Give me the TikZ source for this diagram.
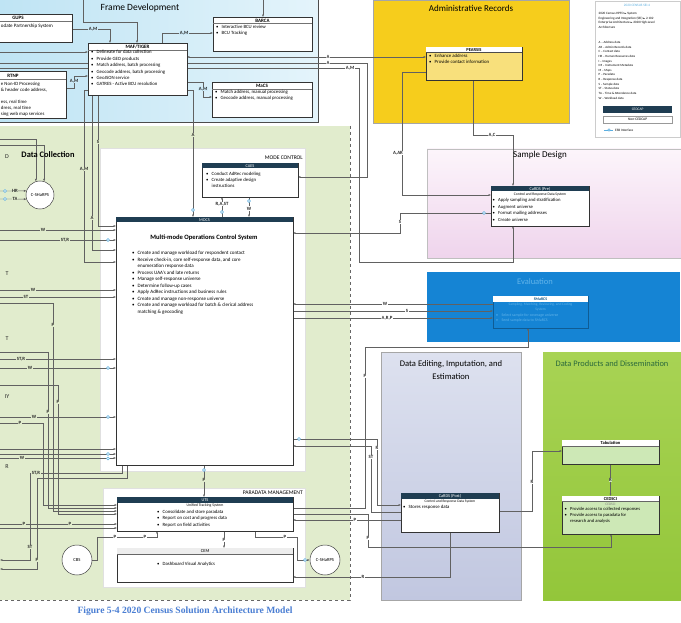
\documentclass[tikz,border=0pt]{standalone}
\usepackage{fontspec}
\setmainfont{Carlito}
\newfontfamily\capfont{Liberation Serif}
\newfontfamily\symfont{DejaVu Sans}
\usetikzlibrary{arrows.meta}
\pgfdeclarelayer{regions}
\pgfdeclarelayer{lines}
\pgfsetlayers{regions,lines,main}
\definecolor{framebl}{HTML}{BFE4F4}
\definecolor{framebl2}{HTML}{E4F4FB}
\definecolor{framemid}{HTML}{CDEAF7}
\definecolor{adminy}{HTML}{F6CD1C}
\definecolor{dcgreen}{HTML}{E1ECCD}
\definecolor{pinkA}{HTML}{FCF5FB}
\definecolor{pinkB}{HTML}{EFD4EC}
\definecolor{evalblue}{HTML}{1584D4}
\definecolor{evaltxt}{HTML}{62B4EA}
\definecolor{lavA}{HTML}{DDE1EF}
\definecolor{lavB}{HTML}{C1C7E0}
\definecolor{prodA}{HTML}{A8D354}
\definecolor{prodB}{HTML}{93C63A}
\definecolor{hdrdark}{HTML}{1F3D52}
\definecolor{esbblue}{HTML}{5AAEE0}
\definecolor{lightgr}{HTML}{CDE8B6}
\definecolor{pearsisY}{HTML}{F8E07C}
\definecolor{capblue}{HTML}{4A7ED3}
\definecolor{prodtxt}{HTML}{2B6A3C}
\newcommand{\fsz}[2]{\fontsize{#1}{#2}\selectfont}
\newcommand{\mybul}{\makebox[5.5pt][l]{\textbullet}}
\newcommand{\mycont}{\hspace*{5.5pt}}
\newcommand{\tri}{{\symfont\fontsize{2.6}{3}\selectfont ►}}
\tikzset{
 ln/.style={draw=black!62, line width=0.35pt},
 arr/.style={ln, -{Latex[length=2.4pt,width=2pt]}},
 arrb/.style={ln, {Latex[length=2.4pt,width=2pt]}-{Latex[length=2.4pt,width=2pt]}},
 lbl/.style={font=\fsz{4.8}{5}\bfseries, inner sep=0.5pt, text=black!85},
 lw/.style={lbl, fill=white},
 lg/.style={lbl, fill=dcgreen},
 lf/.style={lbl, fill=framemid},
 esb/.style={circle, draw=esbblue, fill=white, line width=0.45pt, inner sep=0pt, minimum size=3pt},
 box/.style={draw=black!80, line width=0.45pt, fill=white, inner sep=0pt, outer sep=0pt, anchor=north west},
 hdr/.style={anchor=north west, fill=hdrdark, text=white, inner sep=0pt, outer sep=0pt, minimum height=5.5pt, font=\fsz{4.3}{5}},
 hdrw/.style={anchor=north west, fill=white, text=black, inner sep=0pt, outer sep=0pt, minimum height=5.5pt, font=\fsz{4.5}{5}\bfseries},
 txt/.style={anchor=north west, align=left, inner sep=0pt, font=\fsz{4.8}{6.4}},
 rtitle/.style={font=\fsz{9}{11}, inner sep=0pt},
 edgetxt/.style={font=\fsz{6}{7}, inner sep=0pt, text=black!85},
 circ/.style={circle, draw=black!75, line width=0.5pt, fill=white, inner sep=0pt, font=\fsz{4.6}{5}},
 cuttxt/.style={inner sep=0pt, anchor=west, font=\fsz{4.8}{6}},
}
\begin{document}
\begin{tikzpicture}[x=1pt,y=-1pt]
\useasboundingbox (0,0) rectangle (681,623);
\begin{pgfonlayer}{regions}
\fill[white] (0,0) rectangle (681,623);
% Frame development
\shade[left color=framebl, right color=framebl2] (0,0) rectangle (318,122);
\draw[black!70, line width=0.6pt] (318,0) -- (318,122) -- (0,122);
% Administrative records
\fill[adminy] (373,0) rectangle (569,123);
\draw[black!35, line width=0.3pt] (373,0) rectangle (569,123);
% Legend
\draw[black!20, line width=0.4pt, fill=white] (595,1) rectangle (680.5,137);
% Data collection
\fill[dcgreen] (0,126) rectangle (350,600);
\draw[black!60, dashed, line width=0.4pt] (350,126) -- (350,600) -- (0,600);
\fill[white] (100,148) rectangle (305,471);
\draw[black!12, line width=0.3pt] (100,148) rectangle (305,471);
\fill[white] (103,488) rectangle (305,587);
\draw[black!12, line width=0.3pt] (103,488) rectangle (305,587);
% Sample design
\shade[top color=pinkA, bottom color=pinkB] (427,149) rectangle (681,258);
\draw[black!25, line width=0.3pt] (427,149) rectangle (681,258);
% Evaluation
\fill[evalblue] (427,272) rectangle (680,342);
% Data editing
\shade[top color=lavA, bottom color=lavB] (381,352) rectangle (521,600);
\draw[black!35, line width=0.3pt] (381,352) rectangle (521,600);
% Data products
\shade[top color=prodA, bottom color=prodB] (543,352) rectangle (681,600);
\end{pgfonlayer}

% ---------- region titles ----------
\node[rtitle, font=\fsz{9.5}{11}] (tfd) at (140,8) {Frame Development};
\node[rtitle] (tar) at (471,8) {Administrative Records};
\node[rtitle, font=\fsz{8.4}{10}\bfseries] (tdc) at (48,155) {Data Collection};
\node[inner sep=0pt, anchor=east, font=\fsz{5.6}{6}] (tmc) at (303,158) {MODE CONTROL};
\node[inner sep=0pt, anchor=east, font=\fsz{5.6}{6}] (tpm) at (303,493) {PARADATA MANAGEMENT};
\node[rtitle] (tsd) at (540,155) {Sample Design};
\node[rtitle, text=evaltxt, font=\fsz{8.5}{10}] (tev) at (535,282) {Evaluation};
\node[rtitle, align=center, font=\fsz{8.6}{13.5}] (tde) at (451,370) {Data Editing, Imputation, and\\Estimation};
\node[rtitle, text=prodtxt, font=\fsz{8.4}{10}] (tdp) at (612,364) {Data Products and Dissemination};
\node[edgetxt] (xD) at (7,157) {D};
\node[edgetxt] (xT1) at (7,274) {T};
\node[edgetxt] (xT2) at (7,339) {T};
\node[edgetxt] (xIY) at (7,397) {IY};
\node[edgetxt] (xR) at (7,467) {R};

% ---------- Frame development boxes ----------
\node[box, minimum width=108pt, minimum height=28pt] (gups) at (-36,14) {};
\node[font=\fsz{5}{6}\bfseries, inner sep=0pt] (gupsh) at (18,18) {GUPS};
\draw[black!55, line width=0.3pt] (-36,21.5) -- (72,21.5);
\node[cuttxt, font=\fsz{5}{6}] (gupst) at (0.8,26) {odate Partnership System};

\node[box, minimum width=99pt, minimum height=52pt] (maf) at (88,43) {};
\node[font=\fsz{5}{6}\bfseries, inner sep=0pt] (mafh) at (137.5,46.8) {MAF/TIGER};
\draw[black!55, line width=0.3pt] (88,50) -- (187,50);
\node[txt] (maft) at (91,50.3) {\mybul Delineate for data collection\\ \mybul Provide GEO products\\ \mybul Match address, batch processing\\ \mybul Geocode address, batch processing\\ \mybul GeoJSON service\\ \mybul GATRES - Active BCU resolution};

\node[box, minimum width=99pt, minimum height=34pt] (barca) at (213,17) {};
\node[font=\fsz{5}{6}\bfseries, inner sep=0pt] (barcah) at (262.5,20.5) {BARCA};
\draw[black!55, line width=0.3pt] (213,23.5) -- (312,23.5);
\node[txt] (barcat) at (216,25) {\mybul Interactive BCU review\\ \mybul BCU Tracking};

\node[box, minimum width=100pt, minimum height=35pt] (macs) at (212,82) {};
\node[font=\fsz{5}{6}\bfseries, inner sep=0pt] (macsh) at (262,85.8) {MaCS};
\draw[black!55, line width=0.3pt] (212,89) -- (312,89);
\node[txt] (macst) at (215,90) {\mybul Match address, manual processing\\ \mybul Geocode address, manual processing};

\node[box, minimum width=106pt, minimum height=47pt] (rtnp) at (-40,71) {};
\node[font=\fsz{5}{6}\bfseries, inner sep=0pt] (rtnph) at (13,75.5) {RTNP};
\draw[black!55, line width=0.3pt] (-40,79) -- (66,79);
\node[cuttxt] (rt1) at (0.8,84) {e Non-ID Processing};
\node[cuttxt] (rt2) at (0.8,90) {\& header code address,};
\node[cuttxt] (rt3) at (0.8,102) {ess, real time};
\node[cuttxt] (rt4) at (0.8,108) {dress, real time};
\node[cuttxt] (rt5) at (0.8,114) {sing web map services};

% ---------- Administrative records ----------
\node[box, fill=pearsisY, minimum width=96pt, minimum height=33pt] (pearsis) at (426,47) {};
\node[hdrw, minimum width=96pt] (pearsish) at (426,47) {PEARSIS};
\draw[black!70, line width=0.3pt] (426,52.5) -- (522,52.5);
\node[txt] (pearsist) at (429,54) {\mybul Enhance address\\ \mybul Provide contact information};

% ---------- Legend ----------
\node[inner sep=0pt, text=esbblue, font=\fsz{3.4}{4}] (legt) at (637,5.5) {2020 CENSUS SEI-4};
\node[txt, font=\fsz{3.3}{4.4}] (legp) at (598.5,12.5) {2020 Census HPFO \tri{} System\\Engineering and Integration (SEI) \tri{} 2.102\\Enterprise Architecture \tri{} 2020 High-Level\\Architecture};
\node[txt, font=\fsz{3.2}{4.65}] (legl) at (598.5,41) {A -- Address data\\AR -- Admin Records data\\C -- Contact data\\HR -- Human Resources data\\I -- Images\\IM -- Instrument Metadata\\M -- Maps\\P -- Paradata\\R -- Response data\\S -- Sample data\\ST -- Status data\\TA -- Time \& Attendance data\\W -- Workload data};
\node[anchor=north west, fill=hdrdark, text=white, inner sep=0pt, minimum width=69pt, minimum height=7pt, font=\fsz{3.6}{4}] (legc) at (603,106) {CEDCAP};
\node[anchor=north west, draw=black!40, fill=white, line width=0.3pt, inner sep=0pt, minimum width=69pt, minimum height=7pt, font=\fsz{3.6}{4}] (legn) at (603,116) {Non-CEDCAP};
\coordinate (lege1) at (604,130);
\coordinate (lege2) at (613,130);
\draw[esbblue, line width=0.5pt] (lege1) -- (lege2);
\node[esb, minimum size=2.4pt] (lege) at (609,130) {};
\node[inner sep=0pt, anchor=west, font=\fsz{3.4}{4}] (legel) at (615,130) {ESB Interface};

% ---------- Mode control ----------
\node[box, minimum width=96pt, minimum height=34pt] (caes) at (202,163) {};
\node[hdr, minimum width=96pt] (caesh) at (202,163) {CAES};
\node[txt, font=\fsz{4.8}{6.2}] (caest) at (206,172) {\mybul Conduct AdRec modeling\\ \mybul Create adaptive design\\ \mycont instructions};

\node[box, line width=0.6pt, minimum width=177pt, minimum height=248pt] (mocs) at (116,217) {};
\node[hdr, minimum width=177pt] (mocsh) at (116,217) {MOCS};
\node[font=\fsz{6.6}{8}\bfseries, inner sep=0pt] (mocst) at (204,238) {Multi-mode Operations Control System};
\node[txt, font=\fsz{5}{6.55}] (mocsb) at (132,250.8) {\mybul Create and manage workload for respondent contact\\ \mybul Receive check-in, core self-response data, and core\\ \mycont enumeration response data\\ \mybul Process UAA's and late returns\\ \mybul Manage self-response universe\\ \mybul Determine follow-up cases\\ \mybul Apply AdRec instructions and business rules\\ \mybul Create and manage non-response universe\\ \mybul Create and manage workload for batch \& clerical address\\ \mycont matching \& geocoding};

% ---------- Paradata ----------
\node[box, line width=0.6pt, minimum width=176pt, minimum height=34pt] (uts) at (117,497) {};
\node[hdr, minimum width=176pt] (utsh) at (117,497) {UTS};
\node[inner sep=0pt, font=\fsz{3.8}{4.5}] (utss) at (205,505.3) {Unified Tracking System};
\node[txt, font=\fsz{4.8}{6.5}] (utst) at (157,509.8) {\mybul Consolidate and store paradata\\ \mybul Report on cost and progress data\\ \mybul Report on field activities};

\node[box, minimum width=176pt, minimum height=34pt] (cem) at (117,548) {};
\node[anchor=north west, fill=black!7, inner sep=0pt, minimum width=176pt, minimum height=6pt, font=\fsz{4.5}{5}] (cemh) at (117,548) {CEM};
\draw[black!60, line width=0.3pt] (117,554) -- (293,554);
\node[txt] (cemt) at (157,562) {\mybul Dashboard Visual Analytics};

\node[circ, minimum size=28pt] (cs1) at (40,195) {C-SHaRPS};
\node[circ, minimum size=30pt] (cbs) at (77,560) {CBS};
\node[circ, minimum size=30pt] (cs2) at (325,560) {C-SHaRPS};

% ---------- Sample design ----------
\node[box, minimum width=98pt, minimum height=40pt] (cardspre) at (491,186) {};
\node[hdr, minimum width=98pt] (cardspreh) at (491,186) {CaRDS (Pre)};
\node[inner sep=0pt, font=\fsz{3.7}{4.5}] (cardspres) at (540,194.5) {Control and Response Data System};
\node[txt, font=\fsz{4.7}{6.5}] (cardsprt) at (492.5,198.3) {\mybul Apply sampling and stratification\\ \mybul Augment universe\\ \mybul Format mailing addresses\\ \mybul Create universe};

% ---------- Evaluation ----------
\node[box, fill=none, draw=evalblue!70!black, line width=0.4pt, minimum width=95pt, minimum height=32pt] (smarcs) at (493,296) {};
\node[hdrw, minimum width=95pt, text=evalblue!60!black, font=\fsz{3.9}{4.5}\bfseries] (smarcsh) at (493,296) {SMaRCS};
\node[inner sep=0pt, align=center, text=evaltxt, font=\fsz{3.6}{4.4}] (smarcss) at (540.5,307) {Sampling, Matching, Reviewing, and Coding\\System};
\node[txt, text=evaltxt, font=\fsz{3.9}{5.5}] (smarcst) at (496,313.5) {\mybul Select sample for coverage universe\\ \mybul Send sample data to SMaRCS};

% ---------- Data editing ----------
\node[box, minimum width=98pt, minimum height=39pt] (cardspost) at (401,493) {};
\node[hdr, minimum width=98pt] (cardsposth) at (401,493) {CaRDS (Post)};
\node[inner sep=0pt, font=\fsz{3.6}{4.5}] (cardsposts) at (450,501.8) {Control and Response Data System};
\node[txt] (cardspostt) at (403,505) {\mybul Stores response data};

% ---------- Data products ----------
\node[box, fill=lightgr, minimum width=97pt, minimum height=24pt] (tab) at (562,440) {};
\node[hdrw, minimum width=97pt, minimum height=6pt] (tabh) at (562,440) {Tabulation};
\draw[black!60, line width=0.3pt] (562,446) -- (659,446);
\node[box, fill=lightgr, minimum width=97pt, minimum height=38pt] (cedsci) at (562,496) {};
\node[hdrw, minimum width=97pt, minimum height=5.5pt] (cedscih) at (562,496) {CEDSCI};
\draw[black!60, line width=0.3pt] (562,501.5) -- (659,501.5);
\node[inner sep=0pt, text=black!50, font=\fsz{3.5}{4}] (cedscis) at (610.5,504.5) {CEDSCI};
\node[txt, font=\fsz{4.6}{5.8}] (cedscit) at (564.5,507.3) {\mybul Provide access to collected responses\\ \mybul Provide access to paradata for\\ \mycont research and analysis};

% ---------- free ends ----------
\coordinate (c52) at (0,52);
\coordinate (c63) at (0,63);
\coordinate (c68) at (0,68);
\coordinate (ctop1) at (83,0);
\coordinate (ctop2) at (263,0);
\coordinate (c139) at (0,139);
\coordinate (c145) at (0,145);
\coordinate (c191) at (0,191);
\coordinate (c199) at (0,199);
\coordinate (c230) at (0,230);
\coordinate (c240) at (0,240);
\coordinate (c290) at (0,290);
\coordinate (c297) at (0,297);
\coordinate (c303) at (0,303);
\coordinate (c352) at (0,352);
\coordinate (c359) at (0,359);
\coordinate (c368) at (0,368);
\coordinate (c385) at (0,385);
\coordinate (c417) at (0,417);
\coordinate (c423) at (0,423);
\coordinate (c449) at (0,449);
\coordinate (c454) at (0,454);
\coordinate (c458) at (0,458);
\coordinate (c524) at (0,524);
\coordinate (c528) at (0,528);
\coordinate (c560) at (0,560);
\coordinate (c569) at (0,569);

\begin{pgfonlayer}{lines}
% frame development
\draw[arr] (c52) -- (maf.west |- c52);
\draw[arr] (gups.east |- 0,29) -- (110,29) -- (maf.north -| 110,0);
\draw[arr] (ctop1) -- (83,22) -- (137,22) -- (maf.north -| 137,0);
\draw[arr] (ctop2) -- (barca.north -| ctop2);
\draw[arr] (maf.north -| 162,0) -- (162,33) -- (barca.west |- 0,33);
\draw[arr] (rtnp.east |- 0,88) -- (74,88) -- (74,76) -- (maf.west |- 0,76);
\draw[arr] (maf.east |- 0,82) -- (203,82) -- (203,97) -- (macs.west |- 0,97);
\draw[arr] (maf.east |- 0,90) -- (193,90) -- (mocs.north -| 193,0);
\draw[arrb] (maf.east |- 0,57) -- (pearsis.west |- 0,57);
\draw[arr] (c63) -- (367,63) -- (367,177) -- (caes.east |- 0,177);
\draw[arr] (c68) -- (359,68) -- (359,262) -- (513,262) -- (cardspre.south -| 513,0);
\draw[arr] (pearsis.west |- 0,72) -- (402,72) -- (402,195) -- (cardspre.west |- 0,195);
\draw[arr] (pearsis.south -| 473,0) -- (473,135) -- (513,135) -- (cardspre.north -| 513,0);
\draw[arr] (cardspre.west |- 0,213) -- (400,213) -- (400,233) -- (mocs.east |- 0,233);
% CAES - MOCS
\draw[arr] (mocs.north -| 222,0) -- (caes.south -| 222,0);
\draw[arr] (caes.south -| 249,0) -- (mocs.north -| 249,0);
% Evaluation
\draw[arr] (smarcs.west |- 0,304) -- (mocs.east |- 0,304);
\draw[arr] (mocs.east |- 0,311) -- (smarcs.west |- 0,311);
\draw[arr] (mocs.east |- 0,318) -- (smarcs.west |- 0,318);
\draw[arr] (uts.east |- 0,508) -- (365,508) -- (365,347) -- (528,347) -- (smarcs.south -| 528,0);
% Data editing
\draw[arr] (mocs.east |- 0,439) -- (377,439) -- (377,505) -- (cardspost.west |- 0,505);
\draw[arr] (cardspost.west |- 0,512) -- (371,512) -- (371,446) -- (mocs.east |- 0,446);
\draw[arr] (cardspost.west |- 0,520) -- (uts.east |- 0,520);
\draw[arr] (uts.east |- 0,514) -- (368,514) -- (368,547) -- (611,547) -- (cedsci.south -| 611,0);
\draw[arr] (cardspost.south -| 450,0) -- (450,577) -- (cem.east |- 0,577);
\draw[arr] (cardspost.east |- 0,511) -- (532,511) -- (532,451) -- (tab.west |- 0,451);
\draw[arr] (tab.south) -- (cedsci.north);
% paradata
\draw[arr] (mocs.south -| 204,0) -- (uts.north -| 204,0);
\draw[arr] (uts.south -| 224,0) -- (cem.north -| 224,0);
\draw[arr] (uts.south -| 255,0) -- (255,537) -- (297,537) -- (297,560) -- (cs2.west);
\draw[arr] (cbs.east) -- (97,560) -- (97,537) -- (157,537) -- (uts.south -| 157,0);
% data collection left
\draw[arr] (c139) -| (cs1.107);
\draw[arr] (c145) -| (cs1.73);
\draw[arr] (c191) -- (cs1.163);
\draw[arr] (c199) -- (cs1.197);
\draw[arr] (maf.south -| 98,0) -- (98,226) -- (mocs.west |- 0,226);
\draw[arr] (maf.south -| 92,0) -- (92,250) -- (mocs.west |- 0,250);
\draw[arr] (maf.west |- 0,90) -- (84,90) -- (84,262) -- (mocs.west |- 0,262);
\draw[arr] (c230) -- (mocs.west |- c230);
\draw[arr] (c240) -- (mocs.west |- c240);
\draw[arr] (c290) -- (mocs.west |- c290);
\draw[arr] (c297) -- (mocs.west |- c297);
\draw[arr] (c303) -- (53,303) -- (53,511) -- (uts.west |- 0,511);
\draw[arr] (c352) -- (48,352) -- (48,508) -- (uts.west |- 0,508);
\draw[arr] (c359) -- (mocs.west |- c359);
\draw[arr] (c368) -- (mocs.west |- c368);
\draw[arr] (c385) -- (58,385) -- (58,514) -- (uts.west |- 0,514);
\draw[arr] (c417) -- (mocs.west |- c417);
\draw[arr] (c423) -- (43,423) -- (43,505) -- (uts.west |- 0,505);
\draw[arr] (c449) -- (mocs.west |- c449);
\draw[arr] (c454) -- (mocs.west |- c454);
\draw[arr] (c458) -- (mocs.west |- c458);
\draw[arr] (mocs.south -| 122,0) -- (122,473) -- (30,473) -- (30,560) -- (c560);
\draw[arr] (mocs.south -| 127,0) -- (127,478) -- (37,478) -- (37,569) -- (c569);
\draw[arr] (c524) -- (uts.west |- c524);
\draw[arr] (c528) -- (uts.west |- c528);
\end{pgfonlayer}

% ---------- ESB markers ----------
\node[esb] (e1) at (5,191) {};
\node[esb] (e2) at (5,199) {};
\node[esb] (e3) at (108,240) {};
\node[esb] (e4) at (108,368) {};
\node[esb] (e5) at (108,417) {};
\node[esb] (e6) at (108,454) {};
\node[esb] (e7) at (108,458.5) {};
\node[esb] (e8) at (193,210) {};
\node[esb] (e9) at (222,212) {};
\node[esb] (e10) at (249,201) {};
\node[esb] (e11) at (299,439) {};
\node[esb] (e12) at (204,470) {};
\node[esb] (e13) at (305,560) {};
\node[esb] (e14) at (484,213) {};

% ---------- connector labels ----------
\node[lf] (l1) at (93,29) {A,M};
\node[lf] (l2) at (184,33) {A,M};
\node[lf] (l3) at (74,81) {A,M};
\node[lf] (l4) at (203,89) {A,M};
\node[lw] (l5) at (328,57) {A};
\node[lw] (l6) at (328,63) {A};
\node[lw] (l7) at (350,68) {A,M};
\node[lw] (l8) at (398,153) {A,AR};
\node[lw] (l9) at (492,135) {A,C};
\node[lw] (l10) at (400,222) {S};
\node[lg] (l11) at (193,135) {A};
\node[lw] (l12) at (222,204) {R,A,ST};
\node[lw] (l13) at (249,208.5) {W};
\node[lw] (l14) at (385,304) {W};
\node[lw] (l15) at (407,311) {S};
\node[lw] (l16) at (387,318) {A,R,P};
\node[lw] (l17) at (365,376) {P};
\node[lw] (l18) at (377,448) {R};
\node[lw] (l19) at (371,457) {ST};
\node[lw] (l20) at (355,520) {P};
\node[lw] (l21) at (368,538) {P};
\node[lw] (l22) at (363,577) {R};
\node[lw] (l23) at (532,482) {R};
\node[lbl, fill=lightgr] (l24) at (610.5,480) {R};
\node[lg] (l25) at (204,480) {P};
\node[lw] (l26) at (224,540) {P};
\node[lw] (l27) at (285,537) {P};
\node[lw] (l28) at (115,537) {P};
\node[lw] (l29) at (145,537) {P};
\node[lg] (l30) at (98,142) {S};
\node[lg] (l31) at (92,218) {A};
\node[lg] (l32) at (84,169) {A,M};
\node[lg] (l33) at (43,230) {W};
\node[lg] (l34) at (65,240) {ST,R};
\node[lg] (l35) at (33,290) {W};
\node[lg] (l36) at (26,297) {ST};
\node[lg] (l37) at (53,325) {P};
\node[lg] (l38) at (48,412) {P};
\node[lg] (l39) at (21,359) {ST,R};
\node[lg] (l40) at (30,368) {W};
\node[lg] (l41) at (58,402) {P};
\node[lg] (l42) at (34,417) {W};
\node[lg] (l43) at (20,423) {P};
\node[lg] (l44) at (22,458) {W};
\node[lg] (l45) at (36,473) {ST,R};
\node[lg] (l46) at (30,547) {ST};
\node[lg] (l47) at (37,560) {P};
\node[lg] (l48) at (24,524) {P};
\node[lg] (l49) at (70,524) {P};
\node[lg] (l50) at (15,191) {HR};
\node[lg] (l51) at (15,199) {TA};

% ---------- caption ----------
\node[inner sep=0pt, text=capblue, font=\capfont\bfseries\fsz{9.6}{11}] (cap) at (185,611) {Figure 5-4 2020 Census Solution Architecture Model};
\end{tikzpicture}
\end{document}
